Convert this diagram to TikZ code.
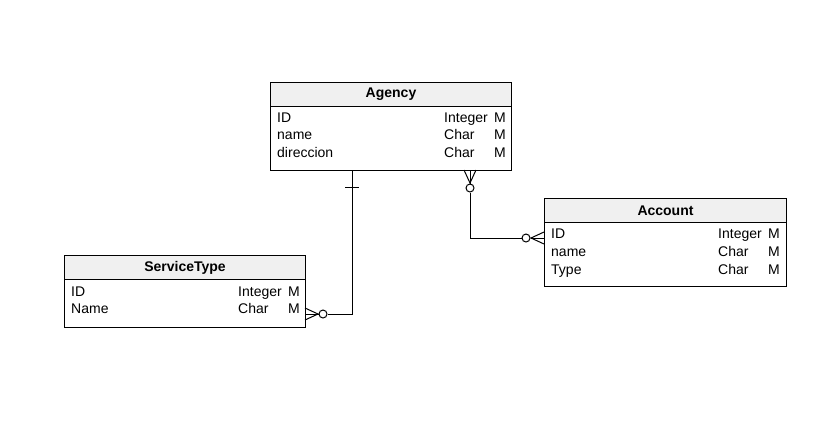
\documentclass[tikz,border=0pt]{standalone}
\usepackage{fontspec}
\setmainfont{Liberation Sans}
\usetikzlibrary{calc}
\definecolor{hdr}{HTML}{F0F0F0}
\begin{document}
\begin{tikzpicture}[x=1pt,y=-1pt,
  entity/.style={draw=black,line width=1pt,rectangle,anchor=north west,inner sep=0pt},
  header/.style={draw=black,line width=1pt,fill=hdr,rectangle,anchor=north west,inner sep=0pt,minimum height=24pt,font=\fontsize{14}{16}\selectfont\bfseries},
  field/.style={anchor=base west,inner sep=0pt,font=\fontsize{14}{16}\selectfont},
  conn/.style={line width=1pt,draw=black},
  zero/.style={circle,draw=black,line width=1pt,fill=white,minimum size=8pt,inner sep=0pt}]
\useasboundingbox (0,0) rectangle (837,421);
% Agency
\node[entity,minimum width=241pt,minimum height=88pt] (agency) at (270,82) {};
\node[header,minimum width=241pt] (agencyh) at (270,82) {Agency};
\node[field] (ag1) at (277,122) {ID};
\node[field] (ag1t) at (444,122) {Integer};
\node[field] (ag1m) at (494,122) {M};
\node[field] (ag2) at (277,139) {name};
\node[field] (ag2t) at (444,139) {Char};
\node[field] (ag2m) at (494,139) {M};
\node[field] (ag3) at (277,157) {direccion};
\node[field] (ag3t) at (444,157) {Char};
\node[field] (ag3m) at (494,157) {M};
% Account
\node[entity,minimum width=242pt,minimum height=88pt] (account) at (544,198) {};
\node[header,minimum width=242pt] (accounth) at (544,198) {Account};
\node[field] (ac1) at (551,238) {ID};
\node[field] (ac1t) at (718,238) {Integer};
\node[field] (ac1m) at (768,238) {M};
\node[field] (ac2) at (551,256) {name};
\node[field] (ac2t) at (718,256) {Char};
\node[field] (ac2m) at (768,256) {M};
\node[field] (ac3) at (551,274) {Type};
\node[field] (ac3t) at (718,274) {Char};
\node[field] (ac3m) at (768,274) {M};
% ServiceType
\node[entity,minimum width=241pt,minimum height=72pt] (svc) at (64,255) {};
\node[header,minimum width=241pt] (svch) at (64,255) {ServiceType};
\node[field] (sv1) at (71,296) {ID};
\node[field] (sv1t) at (238,296) {Integer};
\node[field] (sv1m) at (288,296) {M};
\node[field] (sv2) at (71,313) {Name};
\node[field] (sv2t) at (238,313) {Char};
\node[field] (sv2m) at (288,313) {M};
% Agency -- ServiceType
\coordinate (a1) at (352,170);
\coordinate (s1) at (305,314);
\node[zero] (z1) at (323,314) {};
\draw[conn] (a1) -- (352,314) -- (z1.east);
\draw[conn] (345,187) -- (359,187);
\draw[conn] (s1) -- (z1.west);
\draw[conn] (305,308) -- (318,314) -- (305,320);
% Agency -- Account
\coordinate (a2) at (470,170);
\coordinate (c2) at (544,238);
\node[zero] (z2) at (470,188) {};
\node[zero] (z3) at (526,238) {};
\draw[conn] (z2.south) -- (470,238) -- (z3.west);
\draw[conn] (a2) -- (z2.north);
\draw[conn] (464,170) -- (470,183) -- (476,170);
\draw[conn] (c2) -- (z3.east);
\draw[conn] (544,232) -- (531,238) -- (544,244);
\end{tikzpicture}
\end{document}
